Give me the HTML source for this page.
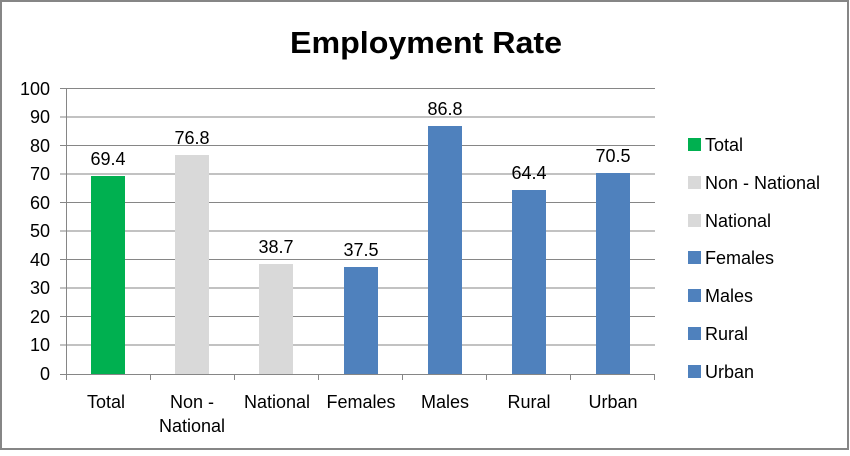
<!DOCTYPE html>
<html><head><style>
body{margin:0;background:#fff;}
text{font-family:"Liberation Sans",sans-serif;}
</style></head><body>
<svg width="850" height="451" xmlns="http://www.w3.org/2000/svg">
<rect x="1" y="1" width="847" height="448" fill="#fff" stroke="#868686" stroke-width="2"/>
<text x="426" y="53" text-anchor="middle" font-size="31" font-weight="bold" fill="#000" textLength="272" lengthAdjust="spacingAndGlyphs">Employment Rate</text>
<g stroke="#868686" stroke-width="1">
<line x1="60" y1="88.5" x2="655" y2="88.5"/>
<line x1="60" y1="117" x2="655" y2="117"/>
<line x1="60" y1="145.5" x2="655" y2="145.5"/>
<line x1="60" y1="174" x2="655" y2="174"/>
<line x1="60" y1="202.5" x2="655" y2="202.5"/>
<line x1="60" y1="231" x2="655" y2="231"/>
<line x1="60" y1="259.5" x2="655" y2="259.5"/>
<line x1="60" y1="288" x2="655" y2="288"/>
<line x1="60" y1="316.5" x2="655" y2="316.5"/>
<line x1="60" y1="345" x2="655" y2="345"/>
<line x1="60" y1="374.5" x2="655" y2="374.5"/>
<line x1="66.5" y1="88" x2="66.5" y2="374"/>
<line x1="66.5" y1="374" x2="66.5" y2="380"/>
<line x1="150.5" y1="374" x2="150.5" y2="380"/>
<line x1="234.5" y1="374" x2="234.5" y2="380"/>
<line x1="318.5" y1="374" x2="318.5" y2="380"/>
<line x1="402.5" y1="374" x2="402.5" y2="380"/>
<line x1="486.5" y1="374" x2="486.5" y2="380"/>
<line x1="570.5" y1="374" x2="570.5" y2="380"/>
<line x1="654.5" y1="374" x2="654.5" y2="380"/>
</g>
<g font-size="18" fill="#000" text-anchor="end">
<text x="50" y="95">100</text><text x="50" y="123">90</text><text x="50" y="152">80</text>
<text x="50" y="180">70</text><text x="50" y="209">60</text><text x="50" y="237">50</text>
<text x="50" y="266">40</text><text x="50" y="294">30</text><text x="50" y="323">20</text>
<text x="50" y="351">10</text><text x="50" y="380">0</text>
</g>
<rect x="91" y="176" width="34" height="198" fill="#00b050"/>
<rect x="175" y="155" width="34" height="219" fill="#d9d9d9"/>
<rect x="259" y="264" width="34" height="110" fill="#d9d9d9"/>
<rect x="344" y="267" width="34" height="107" fill="#4f81bd"/>
<rect x="428" y="126" width="34" height="248" fill="#4f81bd"/>
<rect x="512" y="190" width="34" height="184" fill="#4f81bd"/>
<rect x="596" y="173" width="34" height="201" fill="#4f81bd"/>
<g font-size="18" fill="#000" text-anchor="middle">
<text x="108" y="165">69.4</text>
<text x="192" y="144">76.8</text>
<text x="276" y="253">38.7</text>
<text x="361" y="256">37.5</text>
<text x="445" y="115">86.8</text>
<text x="529" y="179">64.4</text>
<text x="613" y="162">70.5</text>
<text x="106" y="408">Total</text>
<text x="192" y="408">Non -</text>
<text x="192" y="432">National</text>
<text x="277" y="408">National</text>
<text x="361" y="408">Females</text>
<text x="445" y="408">Males</text>
<text x="529" y="408">Rural</text>
<text x="613" y="408">Urban</text>
</g>
<g font-size="18" fill="#000">
<rect x="688" y="138" width="13" height="13" fill="#00b050"/><text x="705" y="151">Total</text>
<rect x="688" y="176" width="13" height="13" fill="#d9d9d9"/><text x="705" y="189">Non - National</text>
<rect x="688" y="214" width="13" height="13" fill="#d9d9d9"/><text x="705" y="227">National</text>
<rect x="688" y="251" width="13" height="13" fill="#4f81bd"/><text x="705" y="264">Females</text>
<rect x="688" y="289" width="13" height="13" fill="#4f81bd"/><text x="705" y="302">Males</text>
<rect x="688" y="327" width="13" height="13" fill="#4f81bd"/><text x="705" y="340">Rural</text>
<rect x="688" y="365" width="13" height="13" fill="#4f81bd"/><text x="705" y="378">Urban</text>
</g>
</svg>
</body></html>
